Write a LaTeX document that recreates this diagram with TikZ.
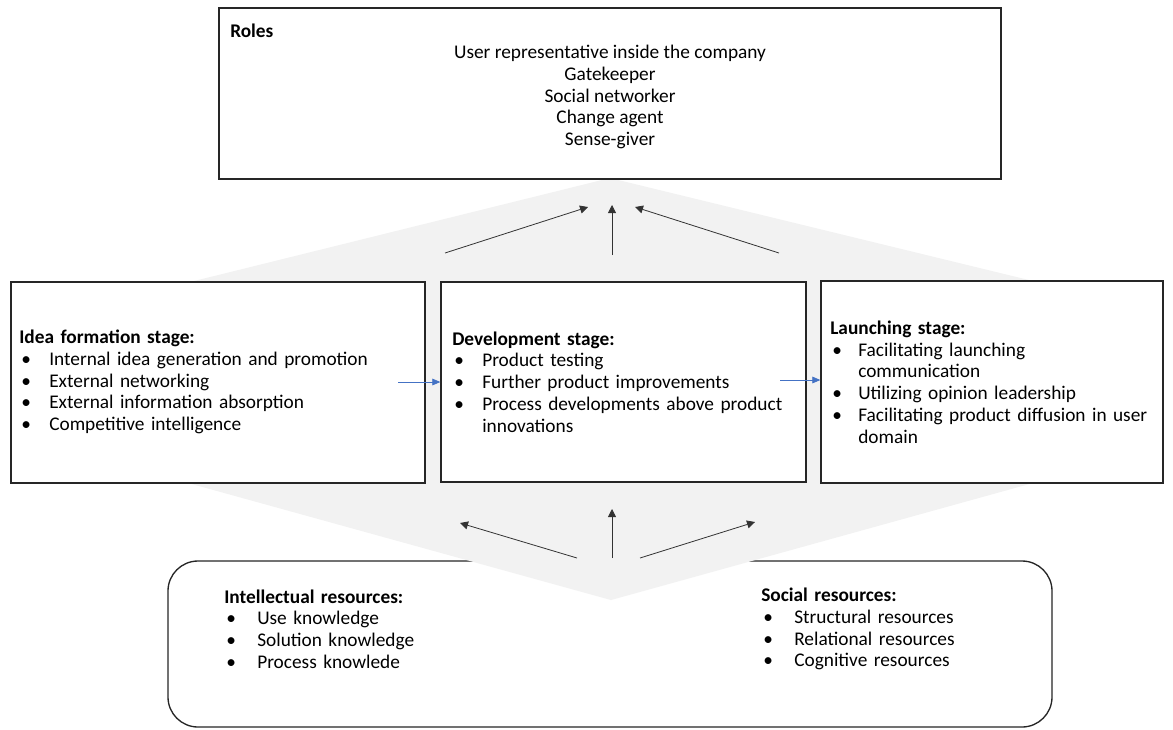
\documentclass[tikz,border=0pt]{standalone}
\usepackage{fontspec}
\setmainfont{Carlito}
\usetikzlibrary{arrows.meta,positioning}
\definecolor{Ink}{HTML}{000000}
\definecolor{Frame}{HTML}{262626}
\definecolor{Haze}{HTML}{F2F2F2}
\definecolor{Flow}{HTML}{4472C4}
% bullet list with the bullet flush to the heading
\newcommand{\pointlabel}[1]{\rlap{\hspace{1.5pt}#1}}
\newenvironment{pointlist}[1]{\begin{list}{\textbullet}{%
 \setlength{\leftmargin}{#1}\setlength{\labelwidth}{0pt}\setlength{\labelsep}{#1}%
 \setlength{\topsep}{0pt}\setlength{\partopsep}{0pt}\setlength{\itemsep}{0pt}%
 \setlength{\parsep}{0pt}\let\makelabel\pointlabel}}{\end{list}}
\tikzset{
 every node/.style={font=\fontsize{14.5}{16.3}\selectfont,text=Ink},
 panel/.style={draw=Frame,line width=1pt,fill=white,inner sep=0pt},
 body/.style={anchor=west,inner sep=0pt,align=left},
 rise/.style={-{Triangle[length=6pt,width=6pt]},line width=.6pt,draw=black!80},
 pass/.style={-{Triangle[length=6pt,width=5pt]},line width=.6pt,draw=Flow},
 }

\begin{document}
\begin{tikzpicture}[x=.75pt,y=-.75pt]
 \useasboundingbox (0,0) rectangle (1173,729);
 % resources (partly under the grey band)
 \node[panel,rounded corners=22.5pt,minimum width=663pt,minimum height=124.5pt] (res) at (610,644) {};
 % grey band behind the stages
 \fill[Haze] (610,178) -- (1033,281) -- (1033,483) -- (611,600) -- (188,483) -- (190,282) -- cycle;
 % roles
 \node[panel,minimum width=586.5pt,minimum height=128.25pt] (roles) at (610,93.5) {};
 \node[body] (rolestitle) at (230,31) {\textbf{Roles}};
 \node[align=center,inner sep=0pt] (rolelist) at (610,97) {User representative inside the company\\Gatekeeper\\Social networker\\Change agent\\Sense-giver};
 % stages
 \node[panel,minimum width=310.5pt,minimum height=150.75pt] (idea) at (218,382.5) {};
 \node[panel,minimum width=273.75pt,minimum height=150pt] (dev) at (623.5,382) {};
 \node[panel,minimum width=256.5pt,minimum height=151.5pt] (launch) at (992,382) {};
 \node[body,text width=300pt] (ideatext) at (19,382) {\textbf{Idea formation stage:}
  \begin{pointlist}{22.5pt}
  \item Internal idea generation and promotion
  \item External networking
  \item External information absorption
  \item Competitive intelligence
  \end{pointlist}};
 \node[body,text width=265pt] (devtext) at (452,382) {\textbf{Development stage:}
  \begin{pointlist}{22.5pt}
  \item Product testing
  \item Further product improvements
  \item Process developments above product\\innovations
  \end{pointlist}};
 \node[body,text width=250pt] (launchtext) at (830,382) {\textbf{Launching stage:}
  \begin{pointlist}{21pt}
  \item Facilitating launching\\communication
  \item Utilizing opinion leadership
  \item Facilitating product diffusion in user\\domain
  \end{pointlist}};
 % resource lists
 \node[body,text width=250pt] (inteltext) at (224,629) {\textbf{Intellectual resources:}
  \begin{pointlist}{24.75pt}
  \item Use knowledge
  \item Solution knowledge
  \item Process knowlede
  \end{pointlist}};
 \node[body,text width=250pt] (socialtext) at (761,629) {\textbf{Social resources:}
  \begin{pointlist}{24.75pt}
  \item Structural resources
  \item Relational resources
  \item Cognitive resources
  \end{pointlist}};
 % arrows up to the roles
 \coordinate (u1) at (445,253); \coordinate (u1e) at (588,207);
 \coordinate (u2) at (612,255); \coordinate (u2e) at (612,205);
 \coordinate (u3) at (779,253); \coordinate (u3e) at (635,207);
 \draw[rise] (u1) -- (u1e);
 \draw[rise] (u2) -- (u2e);
 \draw[rise] (u3) -- (u3e);
 % arrows up from the resources
 \coordinate (d1) at (577,558); \coordinate (d1e) at (460,523);
 \coordinate (d2) at (612,558); \coordinate (d2e) at (612,509);
 \coordinate (d3) at (640,558); \coordinate (d3e) at (755,522);
 \draw[rise] (d1) -- (d1e);
 \draw[rise] (d2) -- (d2e);
 \draw[rise] (d3) -- (d3e);
 % stage to stage
 \coordinate (s1) at (398,382); \coordinate (s2) at (780,380);
 \draw[pass] (s1) -- (s1 -| dev.west);
 \draw[pass] (s2) -- (s2 -| launch.west);
\end{tikzpicture}
\end{document}
